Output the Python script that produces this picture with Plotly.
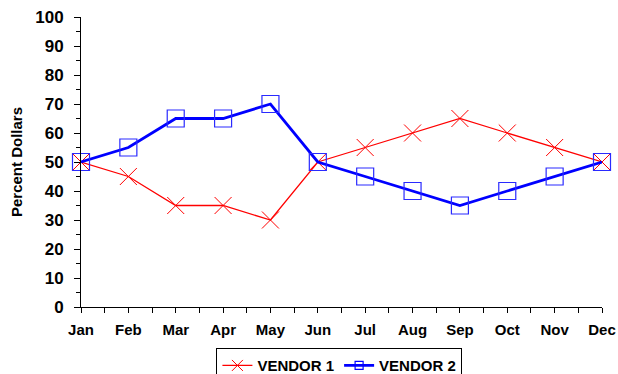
import plotly.graph_objects as go

months = ["Jan", "Feb", "Mar", "Apr", "May", "Jun", "Jul", "Aug", "Sep", "Oct", "Nov", "Dec"]
vendor1 = [50, 45, 35, 35, 30, 50, 55, 60, 65, 60, 55, 50]
vendor2 = [50, 55, 65, 65, 70, 50, 45, 40, 35, 40, 45, 50]
yticks = list(range(0, 101, 10))

x = list(range(len(months)))

fig = go.Figure()
fig.add_trace(go.Scatter(
    x=x, y=vendor1, name="VENDOR 1", mode="lines+markers", showlegend=False,
    line=dict(color="#ff0000", width=1.3),
    marker=dict(symbol="x-thin", size=17, line=dict(color="#ff0000", width=1)),
    cliponaxis=False,
))
fig.add_trace(go.Scatter(
    x=x, y=vendor2, name="VENDOR 2", mode="lines+markers", showlegend=False,
    line=dict(color="#0000ff", width=2.8),
    marker=dict(symbol="square-open", size=17, color="#2a2aff", line=dict(color="#2a2aff", width=1.2)),
    cliponaxis=False,
))
# legend entries with smaller symbols
fig.add_trace(go.Scatter(
    x=[None], y=[None], name="<b>VENDOR 1</b>", mode="lines+markers",
    line=dict(color="#ff0000", width=1.3),
    marker=dict(symbol="x-thin", size=11, line=dict(color="#ff0000", width=1)),
))
fig.add_trace(go.Scatter(
    x=[None], y=[None], name="<b>VENDOR 2</b>", mode="lines+markers",
    line=dict(color="#0000ff", width=2.8),
    marker=dict(symbol="square-open", size=8, color="#0000ff", line=dict(color="#0000ff", width=1.2)),
))

fig.update_layout(
    width=618, height=374,
    margin=dict(l=81, r=16, t=17, b=67, autoexpand=False),
    paper_bgcolor="white", plot_bgcolor="white",
    font=dict(family="Liberation Sans, Arial, sans-serif", color="black"),
    showlegend=True,
    legend=dict(
        orientation="h", x=0.496, xanchor="center", y=-0.142, yanchor="top",
        bordercolor="black", borderwidth=1, bgcolor="white",
        font=dict(size=15, family="Liberation Sans, Arial, sans-serif", color="black"),
        itemwidth=30, tracegroupgap=0,
    ),
    xaxis=dict(
        range=[0, 11], tickvals=x, ticktext=[f"<b>{m}</b>" for m in months],
        showgrid=False, zeroline=False, showline=True, linecolor="black", linewidth=1,
        ticks="outside", ticklen=5, tickcolor="black",
        minor=dict(ticks="outside", dtick=0.5, tick0=0, ticklen=5, tickcolor="black"),
        tickfont=dict(size=15), automargin=False, ticklabelstandoff=4,
    ),
    yaxis=dict(
        range=[0, 100], tickvals=yticks, ticktext=[f"<b>{v}</b>" for v in yticks],
        showgrid=False, zeroline=False, showline=True, linecolor="black", linewidth=1,
        ticks="outside", ticklen=6, tickcolor="black",
        minor=dict(ticks="outside", dtick=5, ticklen=4, tickcolor="black"),
        tickfont=dict(size=17), automargin=False, ticklabelstandoff=7,
        title=dict(text="<b>Percent Dollars</b>", font=dict(size=15), standoff=8),
    ),
)

fig.write_html(
    "out.html",
    config={"displayModeBar": False},
    post_script="document.body.style.margin='0';document.body.style.padding='0';document.body.style.overflow='hidden';",
)
